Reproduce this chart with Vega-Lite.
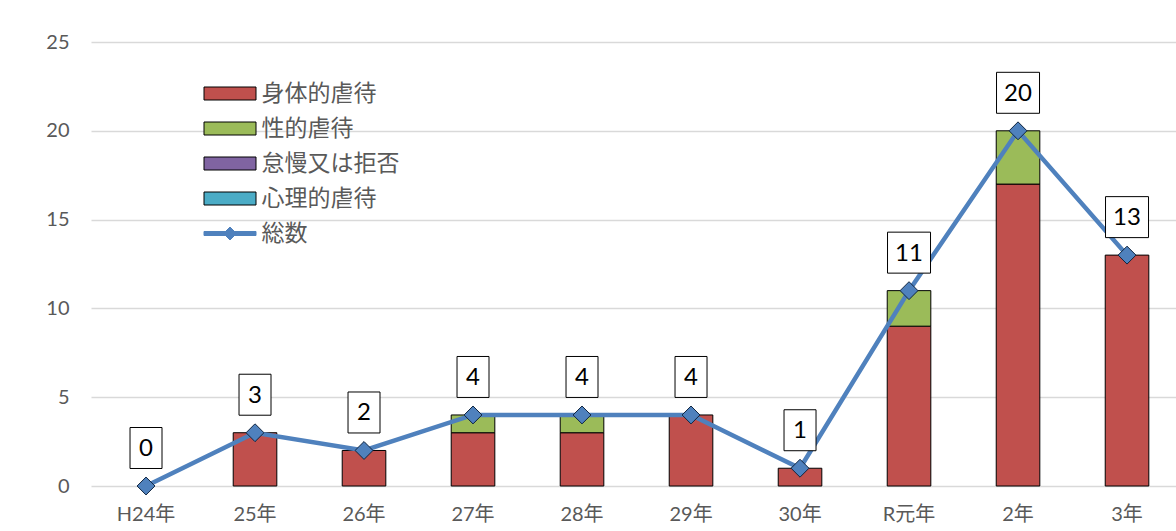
{
  "$schema": "https://vega.github.io/schema/vega-lite/v6.json",
  "width": 1085,
  "height": 444,
  "autosize": {"type": "none"},
  "padding": {"left": 91, "top": 42, "right": 0, "bottom": 45},
  "background": "white",
  "config": {
    "view": {"stroke": null},
    "font": "Lato, 'Noto Sans CJK JP'",
    "legend": {
      "orient": "none",
      "legendX": 127.5,
      "legendY": 40,
      "padding": 0,
      "symbolSize": 169,
      "symbolStrokeColor": "#000000",
      "symbolStrokeWidth": 1,
      "symbolOpacity": 1,
      "labelFont": "Noto Sans CJK JP",
      "labelFontSize": 23,
      "labelColor": "#595959",
      "labelOffset": 20,
      "rowPadding": 11
    }
  },
  "datasets": {
    "bars": [
      {"year": "25年", "type": "身体的虐待", "count": 3},
      {"year": "26年", "type": "身体的虐待", "count": 2},
      {"year": "27年", "type": "身体的虐待", "count": 3},
      {"year": "27年", "type": "性的虐待", "count": 1},
      {"year": "28年", "type": "身体的虐待", "count": 3},
      {"year": "28年", "type": "性的虐待", "count": 1},
      {"year": "29年", "type": "身体的虐待", "count": 4},
      {"year": "30年", "type": "身体的虐待", "count": 1},
      {"year": "R元年", "type": "身体的虐待", "count": 9},
      {"year": "R元年", "type": "性的虐待", "count": 2},
      {"year": "2年", "type": "身体的虐待", "count": 17},
      {"year": "2年", "type": "性的虐待", "count": 3},
      {"year": "3年", "type": "身体的虐待", "count": 13}
    ],
    "totals": [
      {"year": "H24年", "total": 0},
      {"year": "25年", "total": 3},
      {"year": "26年", "total": 2},
      {"year": "27年", "total": 4},
      {"year": "28年", "total": 4},
      {"year": "29年", "total": 4},
      {"year": "30年", "total": 1},
      {"year": "R元年", "total": 11},
      {"year": "2年", "total": 20},
      {"year": "3年", "total": 13}
    ]
  },
  "layer": [
    {
      "data": {"name": "bars"},
      "mark": {"type": "bar", "stroke": "#000000", "strokeWidth": 1},
      "encoding": {
        "x": {
          "field": "year",
          "type": "nominal",
          "title": null,
          "scale": {
            "domain": ["H24年", "25年", "26年", "27年", "28年", "29年", "30年", "R元年", "2年", "3年"],
            "paddingInner": 0.6,
            "paddingOuter": 0.277,
            "align": 0.55
          },
          "axis": {
            "domain": false,
            "ticks": false,
            "grid": false,
            "labelAngle": 0,
            "labelFontSize": 20,
            "labelColor": "#595959",
            "labelPadding": 18,
            "labelBaseline": "top"
          }
        },
        "y": {
          "field": "count",
          "type": "quantitative",
          "stack": "zero",
          "title": null,
          "scale": {"domain": [0, 25], "nice": false},
          "axis": {
            "values": [0, 5, 10, 15, 20, 25],
            "domain": false,
            "ticks": false,
            "grid": true,
            "gridColor": "#D9D9D9",
            "gridWidth": 1.3,
            "labelFontSize": 20,
            "labelColor": "#595959",
            "labelPadding": 22
          }
        },
        "color": {
          "field": "type",
          "type": "nominal",
          "scale": {
            "domain": ["身体的虐待", "性的虐待", "怠慢又は拒否", "心理的虐待", "総数"],
            "range": ["#C0504D", "#9BBB59", "#8064A2", "#4BACC6", "#4F81BD"]
          },
          "legend": {
            "title": null,
            "encode": {
              "symbols": {
                "update": {
                  "shape": {"signal": "datum.value === '総数' ? 'M-4,-0.31H4V0.31H-4Z M0,-1L1,0L0,1L-1,0Z' : 'M-4,-1H4V1H-4Z'"},
                  "stroke": {"signal": "datum.value === '総数' ? '#4F81BD' : '#000000'"}
                }
              }
            }
          }
        },
        "order": {"field": "type", "sort": "descending"}
      }
    },
    {
      "data": {"name": "totals"},
      "mark": {"type": "line", "color": "#4F81BD", "strokeWidth": 4.5},
      "encoding": {
        "x": {"field": "year", "type": "nominal"},
        "y": {"field": "total", "type": "quantitative"}
      }
    },
    {
      "data": {"name": "totals"},
      "mark": {"type": "point", "shape": "diamond", "filled": true, "fill": "#4F81BD", "stroke": "#10253F", "strokeWidth": 1, "size": 320, "opacity": 1},
      "encoding": {
        "x": {"field": "year", "type": "nominal"},
        "y": {"field": "total", "type": "quantitative"}
      }
    },
    {
      "data": {"name": "totals"},
      "mark": {"type": "point", "filled": true, "fill": "#FFFFFF", "stroke": "#000000", "strokeWidth": 1, "size": 1849, "opacity": 1, "yOffset": -38},
      "encoding": {
        "x": {"field": "year", "type": "nominal"},
        "y": {"field": "total", "type": "quantitative"},
        "shape": {
          "condition": {"test": "datum.total >= 10", "value": "M-1,-0.953H1V0.953H-1Z"},
          "value": "M-0.744,-0.953H0.744V0.953H-0.744Z"
        }
      }
    },
    {
      "data": {"name": "totals"},
      "mark": {"type": "text", "fontSize": 24, "color": "#000000", "baseline": "middle", "align": "center", "yOffset": -37},
      "encoding": {
        "x": {"field": "year", "type": "nominal"},
        "y": {"field": "total", "type": "quantitative"},
        "text": {"field": "total", "type": "quantitative"}
      }
    }
  ]
}
